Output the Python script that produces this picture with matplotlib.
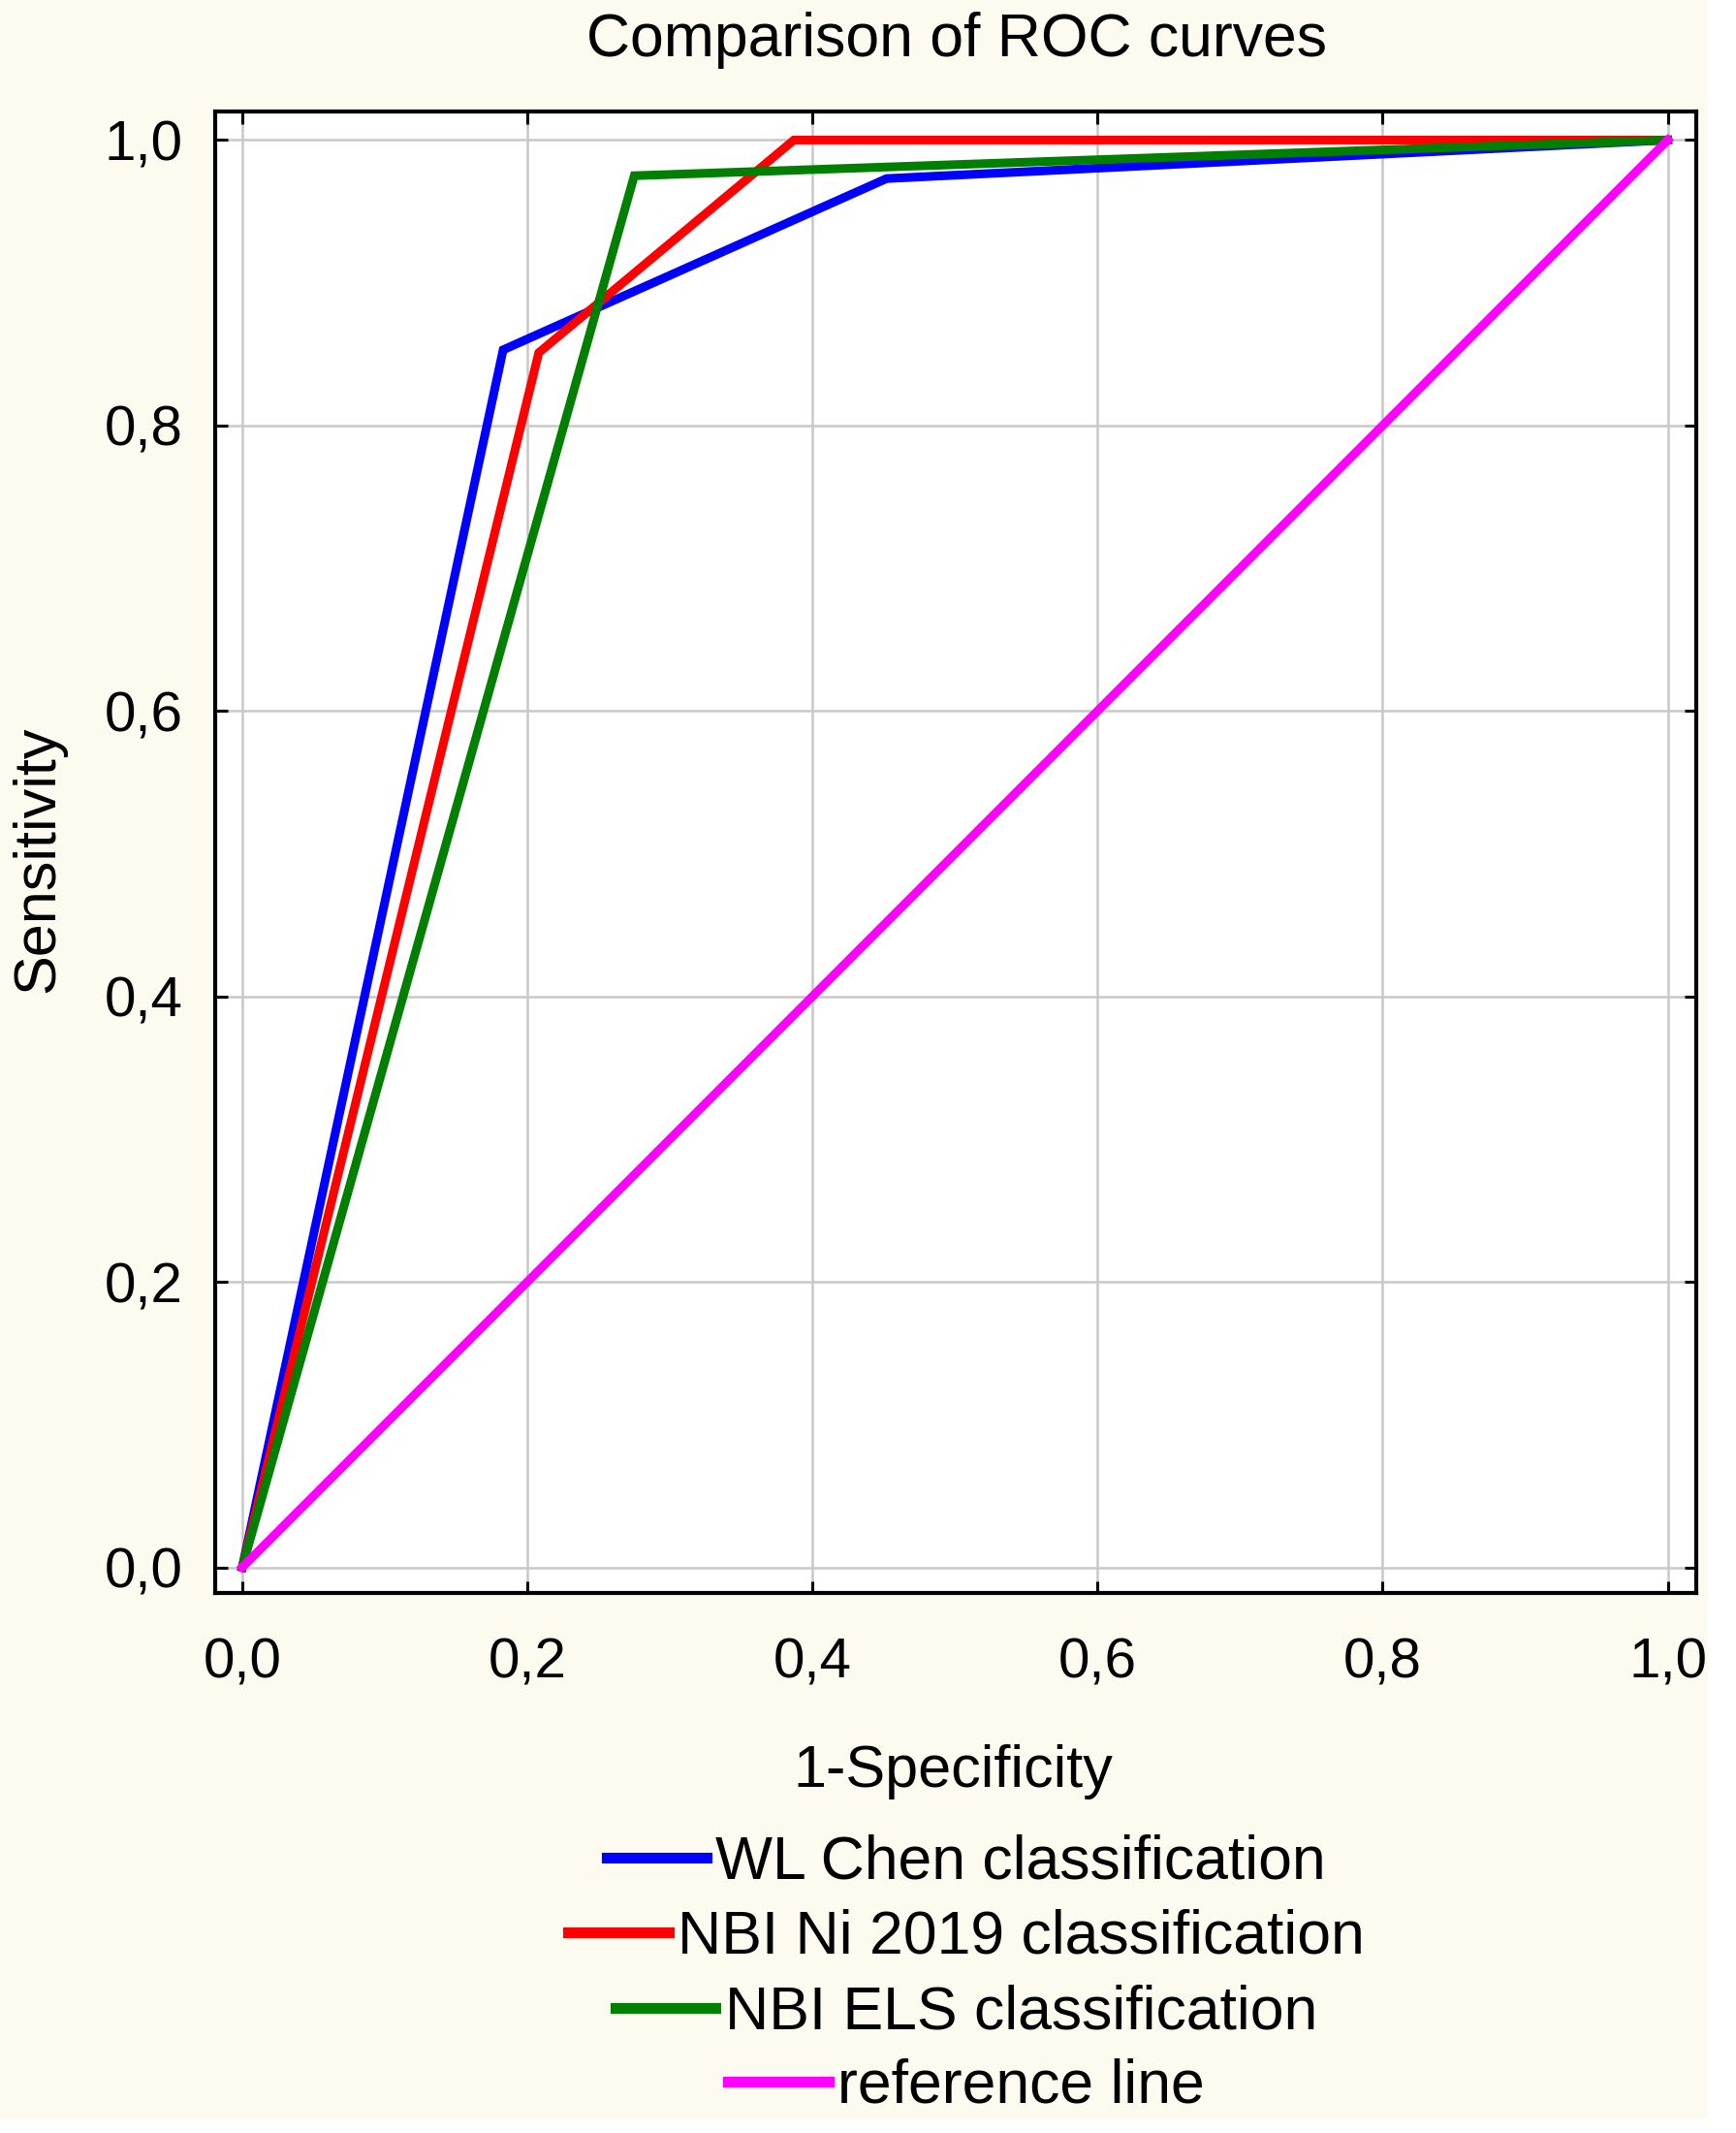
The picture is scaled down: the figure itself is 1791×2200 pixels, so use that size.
import matplotlib
matplotlib.use('Agg')
import matplotlib.pyplot as plt
from matplotlib.patches import Rectangle

plt.rcParams['font.family'] = ['Liberation Sans', 'DejaVu Sans']

# ROC points (1-specificity, sensitivity)
chen_x = [0.0, 0.183, 0.452, 1.0]
chen_y = [0.0, 0.853, 0.973, 1.0]
ni_x = [0.0, 0.208, 0.387, 1.0]
ni_y = [0.0, 0.851, 1.0, 1.0]
els_x = [0.0, 0.275, 1.0]
els_y = [0.0, 0.975, 1.0]
ref_x = [0.0, 1.0]
ref_y = [0.0, 1.0]

labels = ['WL Chen classification', 'NBI Ni 2019 classification',
          'NBI ELS classification', 'reference line']
colors = ['#0000ff', '#ff0000', '#007f00', '#ff00ff']
ticks = [0.0, 0.2, 0.4, 0.6, 0.8, 1.0]
tick_labels = ['0,0', '0,2', '0,4', '0,6', '0,8', '1,0']

fig = plt.figure(figsize=(17.91, 22), dpi=100, facecolor='white')
fig.patches.append(Rectangle((0, 15 / 2200), 1762 / 1791, 1, transform=fig.transFigure,
                             facecolor='#fdfaf0', edgecolor='none', zorder=-10))

ax = fig.add_axes([222 / 1791, 1 - 1643 / 2200, 1528 / 1791, 1528 / 2200])
ax.set_facecolor('white')

series = [(chen_x, chen_y), (ni_x, ni_y), (els_x, els_y), (ref_x, ref_y)]
handles = []
for (xs, ys), c, lab in zip(series, colors, labels):
    h, = ax.plot(xs, ys, color=c, lw=6.5, label=lab, solid_joinstyle='miter', zorder=3)
    handles.append(h)

ax.set_xlim(-0.019, 1.02)
ax.set_ylim(-0.018, 1.02)
ax.set_xticks(ticks)
ax.set_xticklabels(tick_labels)
ax.set_yticks(ticks)
ax.set_yticklabels(tick_labels)
ax.grid(True, color='#c8c8c8', lw=1.8, zorder=0)
ax.set_axisbelow(True)
for s in ax.spines.values():
    s.set_linewidth(3)
ax.tick_params(direction='in', top=True, right=True, length=9, width=2.2,
               labelsize=42, colors='black')
ax.tick_params(axis='x', pad=33)
ax.tick_params(axis='y', pad=24)

ax.set_title('Comparison of ROC curves', fontsize=45, x=0.5005, y=1.037, pad=0)
ax.set_xlabel('1-Specificity', fontsize=44)
ax.xaxis.label.set_va('baseline')
ax.xaxis.set_label_coords(0.4985, -0.131)
ax.set_ylabel('Sensitivity', fontsize=44, va='center', ha='center')
ax.yaxis.set_label_coords(-0.119, 0.4954)

# legend rows are centred one by one
row_y = [1921, 1998, 2076, 2152]
for h, ry in zip(handles, row_y):
    leg = fig.legend(handles=[h], loc='center', bbox_to_anchor=(997 / 1791, 1 - ry / 2200),
                     frameon=False, fontsize=45, handlelength=1.65, handletextpad=0.15,
                     borderpad=0, borderaxespad=0)
    for line in leg.get_lines():
        line.set_linewidth(8)

fig.savefig('out.png', dpi=100, facecolor=fig.get_facecolor())
